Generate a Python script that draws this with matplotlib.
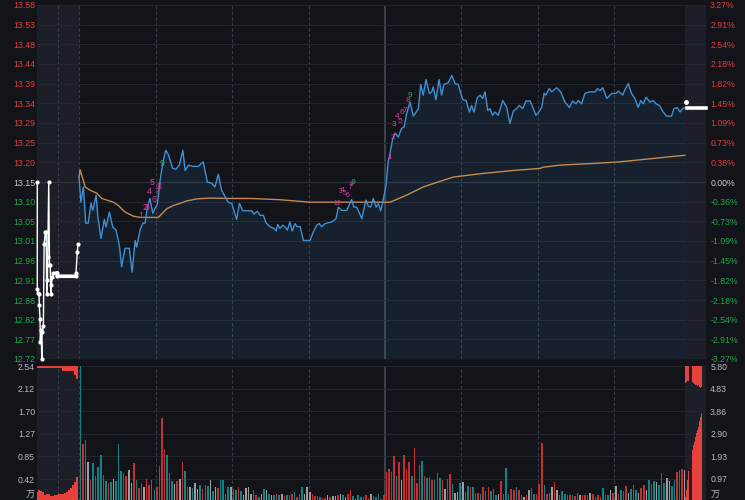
import matplotlib.pyplot as plt

plt.rcParams['font.family'] = ['Liberation Sans', 'DejaVu Sans']

BG = '#131419'
SHADE = '#1c1f28'
HGRID = '#23262e'
VGRID = '#383c47'
MIDLINE = '#3a404c'
UP = '#e23b3b'
DOWN = '#1ea64a'
FLAT = '#c5c8ce'
AXTXT = '#b4b8c0'
MAG = '#d83ba3'
GRN = '#2bb44f'
BAR_COL = {'r': '#c4302e', 't': '#0f8487', 'g': '#9e9e9e'}

prev_close = 13.15
price_labels = ['13.58', '13.53', '13.48', '13.44', '13.39', '13.34', '13.29', '13.25', '13.20',
                '13.15', '13.10', '13.05', '13.01', '12.96', '12.91', '12.86', '12.82', '12.77', '12.72']
pct_labels = ['3.27%', '2.91%', '2.54%', '2.18%', '1.82%', '1.45%', '1.09%', '0.73%', '0.36%',
              '0.00%', '-0.36%', '-0.73%', '-1.09%', '-1.45%', '-1.82%', '-2.18%', '-2.54%', '-2.91%', '-3.27%']
vol_labels = ['2.54', '2.12', '1.70', '1.27', '0.85', '0.42']
vol_labels_r = ['5.80', '4.83', '3.86', '2.90', '1.93', '0.97']

# minutes from 9:30 (afternoon continues at 120)
main_t = [0, 0.7, 1.7, 2.6, 3.6, 4.7, 5.4, 6.7, 7.3, 8.6,
          9.9, 10.6, 11.9, 13.2, 14.5, 15.8, 16.7, 18.0, 19.7, 20.8,
          22.0, 22.6, 23.9, 25.0, 25.9, 26.8, 27.8, 28.9, 29.8, 30.7,
          31.8, 32.8, 34.0, 35.0, 36.7, 38.0, 39.3, 40.7, 41.6, 42.9,
          44.6, 46.8, 48.7, 50.3, 52.0, 53.3, 54.6, 55.9, 58.5, 59.9,
          61.8, 62.9, 64.2, 67.7, 68.6, 69.9, 71.0, 72.3, 73.3, 74.9,
          76.5, 77.3, 77.9, 78.8, 79.9, 80.8, 81.7, 82.7, 83.6, 84.7,
          85.6, 86.7, 88.0, 90.6, 91.9, 93.2, 94.2, 95.2, 96.5, 99.1,
          100.8, 101.7, 103.0, 105.0, 106.9, 107.8, 108.9, 110.9, 112.5, 113.5,
          114.4, 115.4, 116.5, 117.4, 118.3, 119.3, 120.4, 121.3, 121.7, 123.0,
          124.0, 125.2, 126.5, 127.5, 128.5, 129.8, 131.1, 133.1, 134.0, 135.0,
          136.1, 137.4, 138.3, 138.9, 140.0, 141.2, 142.2, 143.1, 144.8, 146.2,
          147.5, 148.7, 150.5, 151.8, 153.1, 154.0, 154.9, 156.2, 157.3, 158.3,
          159.2, 160.3, 161.2, 162.2, 163.1, 164.4, 166.2, 167.7, 169.0, 170.3,
          171.6, 172.7, 174.0, 175.3, 176.9, 178.2, 179.2, 180.1, 181.5, 182.4,
          183.1, 184.4, 185.4, 187.3, 188.9, 190.6, 192.3, 193.6, 194.9, 195.8,
          197.1, 198.4, 200.1, 202.4, 203.3, 204.3, 205.4, 207.0, 208.9, 210.6,
          211.5, 213.2, 214.1, 215.4, 216.7, 218.0, 219.3, 220.3, 221.3, 222.4,
          223.9, 225.2, 226.3, 227.6, 229.1, 230.5, 232.4, 233.3, 234.6, 235.7,
          236.7, 237.6]
main_price = [13.161, 13.101, 13.138, 13.050, 13.050, 13.099, 13.081, 13.118, 13.069, 13.013,
              13.059, 13.041, 13.077, 13.041, 13.033, 12.996, 12.944, 12.989, 12.989, 12.931,
              13.008, 12.992, 13.033, 13.050, 13.050, 13.089, 13.110, 13.074, 13.086, 13.096,
              13.154, 13.195, 13.227, 13.217, 13.183, 13.181, 13.191, 13.227, 13.178, 13.191,
              13.188, 13.188, 13.199, 13.150, 13.147, 13.138, 13.169, 13.130, 13.101, 13.098,
              13.059, 13.098, 13.080, 13.080, 13.072, 13.079, 13.069, 13.069, 13.051, 13.041,
              13.037, 13.031, 13.047, 13.037, 13.045, 13.041, 13.033, 13.053, 13.031, 13.049,
              13.041, 13.042, 13.008, 13.008, 13.029, 13.045, 13.049, 13.041, 13.049, 13.053,
              13.061, 13.089, 13.081, 13.081, 13.107, 13.089, 13.089, 13.061, 13.106, 13.091,
              13.089, 13.110, 13.089, 13.098, 13.080, 13.106, 13.142, 13.203, 13.211, 13.255,
              13.269, 13.259, 13.280, 13.284, 13.316, 13.344, 13.310, 13.328, 13.387, 13.361,
              13.399, 13.365, 13.369, 13.381, 13.350, 13.399, 13.361, 13.387, 13.391, 13.409,
              13.389, 13.387, 13.350, 13.348, 13.320, 13.336, 13.320, 13.355, 13.361, 13.353,
              13.369, 13.324, 13.328, 13.312, 13.320, 13.312, 13.348, 13.332, 13.292, 13.322,
              13.328, 13.336, 13.328, 13.347, 13.347, 13.328, 13.312, 13.318, 13.332, 13.366,
              13.361, 13.377, 13.369, 13.379, 13.369, 13.344, 13.331, 13.347, 13.340, 13.348,
              13.340, 13.365, 13.369, 13.369, 13.377, 13.372, 13.379, 13.353, 13.365, 13.365,
              13.371, 13.361, 13.374, 13.389, 13.365, 13.353, 13.331, 13.348, 13.340, 13.356,
              13.344, 13.348, 13.340, 13.336, 13.320, 13.310, 13.310, 13.328, 13.331, 13.320,
              13.328, 13.331]

avg_t = [0, 0.4, 2.4, 4.3, 6.9, 8.9, 10.9, 13.4, 15.4, 18.0, 21.3, 23.9, 31.1, 34.4, 37.0,
         39.6, 42.2, 46.2, 51.4, 59.2, 67.1, 78.8, 90.6, 118.0, 122.0, 128.5, 135.0, 140.3,
         146.8, 157.3, 170.3, 180.8, 182.1, 188.6, 201.7, 212.2, 237.6]
avg_price = [13.161, 13.180, 13.138, 13.130, 13.123, 13.110, 13.106, 13.101, 13.093, 13.077,
             13.067, 13.064, 13.064, 13.085, 13.093, 13.098, 13.104, 13.109, 13.111, 13.110,
             13.110, 13.107, 13.101, 13.101, 13.101, 13.118, 13.138, 13.149, 13.162, 13.170,
             13.178, 13.183, 13.186, 13.191, 13.195, 13.199, 13.215]

# call auction before the open
pre_t = [-16.4, -16.4, -16.2, -15.7, -15.6, -15.3, -15.2, -14.9, -14.6, -14.5,
         -14.0, -13.7, -13.2, -12.9, -12.7, -12.4, -12.3, -11.9, -11.6, -11.3,
         -11.1, -10.9, -10.5, -10.1, -8.7, -8.5, -1.2, -1.2, -0.7, -0.4]
pre_price = [13.150, 12.889, 12.880, 12.879, 12.850, 12.818, 12.761, 12.790, 12.719, 12.786,
             12.799, 13.000, 13.029, 13.029, 12.879, 12.911, 12.968, 13.150, 12.948, 12.948,
             12.879, 12.899, 12.919, 12.929, 12.929, 12.921, 12.921, 12.929, 12.980, 13.000]

# after-hours
post_t = [238.0, 238.3, 245.9]
post_price = [13.345, 13.329, 13.329]

# TD-style count labels
td_am_t = [24.3, 25.7, 26.7, 27.5, 28.5, 29.4, 30.5, 31.5, 32.5]
td_am_p = [13.069, 13.089, 13.089, 13.127, 13.149, 13.108, 13.127, 13.138, 13.196]
td_mid_t = [100.4, 101.6, 102.4, 103.3, 104.3, 105.1, 106.3, 106.9, 107.8]
td_mid_p = [13.098, 13.098, 13.127, 13.130, 13.123, 13.118, 13.137, 13.144, 13.150]
td_pm_t = [121.7, 122.9, 123.7, 124.9, 125.9, 126.5, 127.6, 128.9, 129.9]
td_pm_p = [13.209, 13.258, 13.290, 13.310, 13.298, 13.319, 13.323, 13.347, 13.359]
td_text = ['1', '2', '3', '4', '5', '6', '7', '8', '9']

# minute volume (万), one bar per minute
vol = [3.2, 1.07, 1.16, 0.74, 0.41, 0.72, 0.48, 0.64, 0.88, 0.49,
       0.39, 0.35, 0.37, 0.43, 0.39, 1.07, 0.57, 0.53, 0.48, 0.59,
       0.35, 0.72, 0.40, 0.26, 0.34, 0.28, 0.43, 0.32, 0.40, 0.22,
       0.28, 0.66, 1.57, 0.99, 0.88, 0.53, 0.39, 0.33, 0.39, 0.43,
       0.74, 0.57, 0.27, 0.27, 0.26, 0.35, 0.24, 0.31, 0.24, 0.32,
       0.30, 0.41, 0.20, 0.28, 0.25, 0.41, 0.41, 0.15, 0.27, 0.28,
       0.24, 0.22, 0.27, 0.20, 0.12, 0.25, 0.27, 0.14, 0.22, 0.12,
       0.08, 0.15, 0.24, 0.21, 0.15, 0.12, 0.12, 0.14, 0.13, 0.14,
       0.11, 0.13, 0.13, 0.15, 0.18, 0.09, 0.14, 0.27, 0.15, 0.27,
       0.18, 0.15, 0.10, 0.10, 0.08, 0.06, 0.06, 0.12, 0.08, 0.10,
       0.10, 0.12, 0.15, 0.13, 0.09, 0.15, 0.22, 0.10, 0.05, 0.13,
       0.08, 0.09, 0.12, 0.06, 0.15, 0.10, 0.09, 0.15, 0.05, 0.12,
       0.56, 0.61, 0.56, 0.85, 0.48, 0.75, 0.40, 0.88, 0.62, 0.74,
       0.48, 1.00, 0.35, 0.68, 0.76, 0.48, 0.44, 0.46, 0.41, 0.41,
       0.53, 0.44, 0.41, 0.23, 0.42, 0.52, 0.33, 0.17, 0.18, 0.34,
       0.36, 0.18, 0.30, 0.27, 0.27, 0.16, 0.17, 0.14, 0.27, 0.20,
       0.28, 0.20, 0.24, 0.12, 0.15, 0.38, 0.15, 0.63, 0.15, 0.23,
       0.22, 0.27, 0.22, 0.12, 0.08, 0.12, 0.22, 0.25, 0.14, 0.14,
       0.33, 1.10, 0.32, 0.15, 0.16, 0.27, 0.37, 0.22, 0.12, 0.20,
       0.15, 0.12, 0.12, 0.12, 0.10, 0.17, 0.13, 0.13, 0.13, 0.12,
       0.17, 0.14, 0.08, 0.13, 0.09, 0.25, 0.13, 0.12, 0.21, 0.17,
       0.30, 0.15, 0.22, 0.20, 0.30, 0.17, 0.24, 0.31, 0.22, 0.16,
       0.25, 0.31, 0.22, 0.40, 0.33, 0.39, 0.37, 0.31, 0.53, 0.35,
       0.44, 0.38, 0.30, 0.40, 0.56, 0.60, 0.61, 0.60]
vol_dir = ("trtgrtrttr" "trtgtttrrg" "grtrrgrrtt" "rrrrtttgrg" "rtrgtggtrt" "tgtgrttttg" "ttrtg"
           "gggtrtgtgt" "gtrtgrtrrt" "rttgggrrrt" "rrgrggrgtg" "rrtgttrrrg" "rttrr"
           "rrrrtrgrrr" "trrrtrttrt" "rtrgrrtggt" "gttrtrrtrt" "rtrtgrtttr" "rtrtgrgttr"
           "rrtrtgrgtt" "trrtr" "tgrrrgrtrr" "trtgrgrtrr" "gtttgrrgtr" "tgtttggttr" "trg")

# auction volume (left scale) and its hanging part
pre_vol_t = [-16.1, -15.7, -14.9, -14.1, -13.3, -12.5, -11.8, -11.0, -10.2, -9.4, -8.6,
             -7.8, -7.1, -6.3, -5.5, -4.7, -3.9, -3.1, -2.4, -1.6, -0.8]
pre_vol = [0.18, 0.22, 0.20, 0.18, 0.12, 0.15, 0.14, 0.10, 0.11, 0.12, 0.13,
           0.14, 0.15, 0.15, 0.17, 0.18, 0.22, 0.25, 0.31, 0.37, 0.47]
pre_hang = [0.03, 0.03, 0.03, 0.03, 0.03, 0.03, 0.03, 0.03, 0.03, 0.03, 0.03,
            0.03, 0.03, 0.09, 0.09, 0.10, 0.09, 0.09, 0.10, 0.17, 0.25]

# after-hours volume (right scale)
post_vol_t = [238.0, 238.4, 238.8, 239.2, 239.6, 240.0, 240.4, 240.7, 241.1, 241.5,
              241.9, 242.3, 242.7, 243.1, 243.5, 243.9, 244.3, 244.7, 245.1, 245.5]
post_vol = [0.20, 0.50, 0.91, 1.30, 1.70, 2.03, 2.10, 2.20, 2.42, 2.56,
            2.75, 2.92, 3.05, 3.20, 3.45, 3.63, 3.80, 3.85, 3.92, 1.94]
post_hang = [0.73, 0.69, 0.64, 0.64, 0.69, 0.73, 0.73, 0.69, 0.73, 0.77,
             0.81, 0.81, 0.86, 0.81, 0.90, 0.94, 0.90, 0.86, 0.77, 0.77]

W, H = 745, 500
XMIN, XMAX = -16.5, 245.9
OPEN_END, CLOSE_T = 0, 237.6
grid_t = [-8.2, 0, 30, 60, 90, 150, 180, 210]

step = prev_close * 0.0327 / 9
levels = [prev_close + step * k for k in range(9, -10, -1)]
label_cols = [UP] * 9 + [FLAT] + [DOWN] * 9

fig = plt.figure(figsize=(W / 100, H / 100), dpi=100, facecolor=BG)
ax = fig.add_axes([37 / W, 141 / H, 669 / W, 354 / H])
vax = fig.add_axes([37 / W, 0, 669 / W, 134 / H])

for a in (ax, vax):
    a.set_facecolor(BG)
    a.set_xlim(XMIN, XMAX)
    a.set_xticks([])
    for s in a.spines.values():
        s.set_visible(False)
    a.axvspan(XMIN, OPEN_END, color=SHADE, lw=0, zorder=0)
    a.axvspan(CLOSE_T, XMAX, color=SHADE, lw=0, zorder=0)
    for t in grid_t:
        a.axvline(t, color=VGRID, lw=0.8, ls=(0, (3, 2)), zorder=1)
    a.axvline(120, color=MIDLINE, lw=1.5, zorder=1)

# price panel
ax.set_ylim(levels[-1], levels[0])
for i, lv in enumerate(levels):
    ax.axhline(lv, color='#2d313b' if i == 9 else HGRID, lw=0.9 if i == 9 else 0.7, zorder=1)
ax.set_yticks(levels)
ax.set_yticklabels(price_labels)
ax.tick_params(axis='y', length=0, pad=1.5, labelsize=6.3)
for lbl, c in zip(ax.get_yticklabels(), label_cols):
    lbl.set_color(c)

ax.fill_between(main_t, main_price, levels[-1], color='#3d8fd6', alpha=0.11, lw=0, zorder=2)
ax.plot(main_t, main_price, color='#3f8fd4', lw=1.0, zorder=4)
ax.plot(avg_t, avg_price, color='#c48a4f', lw=1.0, zorder=3)

ax.plot(pre_t, pre_price, color='white', lw=1.0, marker='o', ms=2.0, zorder=5, clip_on=False)
ax.plot(pre_t[24:27], pre_price[24:27], color='white', lw=2.6, zorder=5)
ax.plot(post_t[:1], post_price[:1], 'o', color='white', ms=2.5, zorder=5)
ax.plot(post_t[1:], post_price[1:], color='white', lw=2.6, zorder=5, clip_on=False)

for ts, ps, fs in [(td_am_t, td_am_p, 6.3), (td_mid_t, td_mid_p, 4.8), (td_pm_t, td_pm_p, 6.0)]:
    for t, p, s in zip(ts, ps, td_text):
        ax.text(t, p, s, color=GRN if s == '9' else MAG, fontsize=fs,
                ha='center', va='center', zorder=6)

ax_r = ax.twinx()
ax_r.set_ylim(levels[-1], levels[0])
ax_r.set_yticks(levels)
ax_r.set_yticklabels(pct_labels)
ax_r.tick_params(axis='y', length=0, pad=3, labelsize=6.3)
for lbl, c in zip(ax_r.get_yticklabels(), label_cols):
    lbl.set_color(c)
for s in ax_r.spines.values():
    s.set_visible(False)

# volume panel
vtop = 2.54
vlevels = [vtop * k / 6 for k in range(6, 0, -1)]
vax.set_ylim(0.03, vtop)
for lv in vlevels:
    vax.axhline(lv, color=HGRID, lw=0.7, zorder=1)
vax.set_yticks(vlevels)
vax.set_yticklabels(vol_labels)
vax.tick_params(axis='y', length=0, pad=1.5, labelsize=6.3, labelcolor=AXTXT)

bar_x = [i + 0.5 for i in range(len(vol))]
vax.bar(bar_x, vol, width=0.6, color=[BAR_COL[c] for c in vol_dir], lw=0, zorder=3)
vax.bar(pre_vol_t, pre_vol, width=0.85, color='#e8403d', lw=0, zorder=3)
vax.bar(pre_vol_t, [-h for h in pre_hang], bottom=vtop, width=0.85, color='#e8403d', lw=0, zorder=3)

rtop = 5.80
rlevels = [rtop * k / 6 for k in range(6, 0, -1)]
vax_r = vax.twinx()
vax_r.set_ylim(0.056, rtop)
vax_r.set_yticks(rlevels)
vax_r.set_yticklabels(vol_labels_r)
vax_r.tick_params(axis='y', length=0, pad=3, labelsize=6.3, labelcolor=AXTXT)
for s in vax_r.spines.values():
    s.set_visible(False)
post_cols = ['#e8403d'] * (len(post_vol) - 1) + ['#0f8286']
vax_r.bar(post_vol_t, post_vol, width=0.34, color=post_cols, lw=0, zorder=3)
vax_r.bar(post_vol_t, [-h for h in post_hang], bottom=rtop, width=0.34, color='#e8403d', lw=0, zorder=3)

cjk = ['Noto Sans CJK SC', 'DejaVu Sans']
fig.text(30 / W, 1 - 495 / H, '万', color=AXTXT, fontsize=6.5, family=cjk, ha='center', va='center')
fig.text(715 / W, 1 - 495 / H, '万', color=AXTXT, fontsize=6.5, family=cjk, ha='center', va='center')

fig.savefig('out.png', dpi=100, facecolor=BG)
